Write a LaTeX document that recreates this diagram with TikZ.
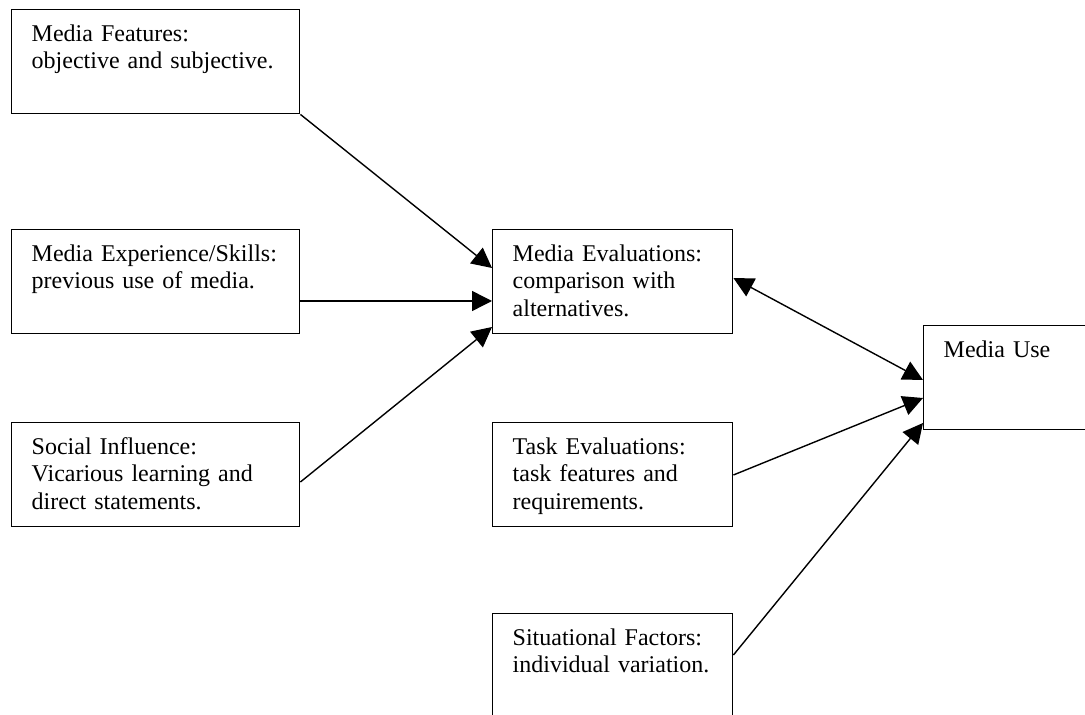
\documentclass[tikz,border=0pt]{standalone}
\usepackage{fontspec}
\setmainfont{Liberation Serif}
\usetikzlibrary{positioning, arrows.meta, calc}

\begin{document}
\begin{tikzpicture}[x=0.5pt, y=-0.5pt, font=\fontsize{12}{13.6}\selectfont,
    >={Triangle[length=10pt, width=10pt]},
    factor/.style={draw, line width=0.7pt, anchor=north west, align=left,
      inner xsep=10pt, inner ysep=0pt, text height=16pt, text depth=36pt},
    widebox/.style={factor, text width=124pt},
    midbox/.style={factor, text width=100pt},
    link/.style={->, line width=0.7pt}]
  \clip (0,0) rectangle (1085,715);
  % left column
  \node[widebox] (features) at (11,9) {Media Features:\\objective and subjective.};
  \node[widebox] (experience) at (11,229) {Media Experience/Skills:\\previous use of media.};
  \node[widebox] (social) at (11,422) {Social Influence:\\Vicarious learning and\\direct statements.};
  % middle column
  \node[midbox] (evaluation) at (492,229) {Media Evaluations:\\comparison with\\alternatives.};
  \node[midbox] (task) at (492,422) {Task Evaluations:\\task features and\\requirements.};
  \node[midbox] (situation) at (492,613) {Situational Factors:\\individual variation.};
  % right
  \node[midbox] (use) at (923,325) {Media Use};
  % connectors
  \draw[link] (features.south east) -- ($(evaluation.north west)+(0,39)$);
  \draw[link] ($(experience.north east)+(0,72)$) -- ($(evaluation.north west)+(0,72)$);
  \draw[link] ($(social.north east)+(0,60)$) -- ($(evaluation.north west)+(0,98)$);
  \draw[link, <->] ($(evaluation.north east)+(0,49)$) -- ($(use.north west)+(0,55)$);
  \draw[link] ($(task.north east)+(0,53)$) -- ($(use.north west)+(0,73)$);
  \draw[link] ($(situation.north east)+(0,42)$) -- ($(use.north west)+(0,98)$);
\end{tikzpicture}
\end{document}
